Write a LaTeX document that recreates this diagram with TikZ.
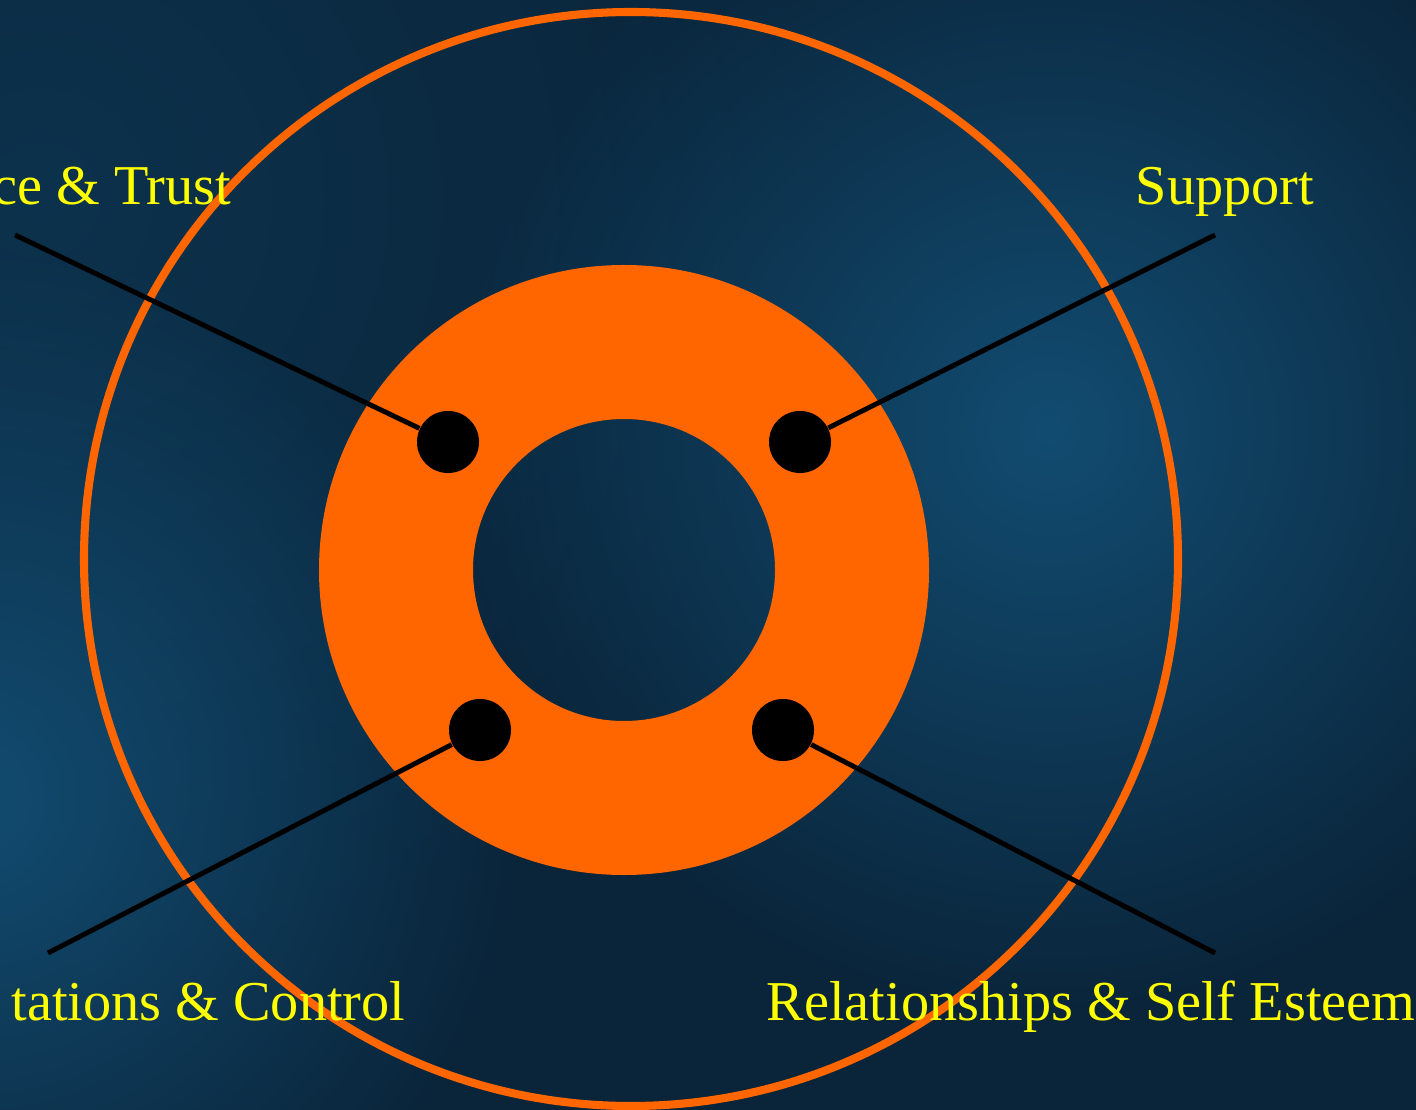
\documentclass[tikz,border=0pt]{standalone}
\usepackage{fontspec}
\setmainfont{Liberation Serif}
\usetikzlibrary{calc,positioning,fadings}

\definecolor{navy}{HTML}{0A2439}
\definecolor{glow}{HTML}{124C71}
\definecolor{ringorange}{HTML}{FF6600}
\definecolor{labelyellow}{HTML}{FFFF00}

\tikzfading[name=blobfade, inner color=transparent!0, outer color=transparent!100]

\begin{document}
\begin{tikzpicture}[
    x=0.01cm, y=-0.01cm,
    dot/.style   = {circle, fill = black, inner sep = 0pt, minimum size = 0.62cm},
    spoke/.style = {line width = 1.4pt, black},
    lbl/.style   = {text = labelyellow, font = \fontsize{16}{19}\selectfont, inner sep = 0pt},
    blob/.style  = {fill = glow, path fading = blobfade},
  ]
	\useasboundingbox (0,0) rectangle (1416,1110);
	\clip (0,0) rectangle (1416,1110);
	
	% Hintergrund
	\fill[navy] (0,0) rectangle (1416,1110);
	\fill[blob, fill opacity=0.35] (40,200) circle (800);
	\fill[blob] (1050,430) circle (600);
	\fill[blob] (-30,800) circle (560);
	
	\coordinate (M) at (624,570); % Mittelpunkt Ring
	
	% aeusserer Kreis
	\draw[ringorange, line width=2.3pt] (631,559) circle (547);
	
	% Ring
	\fill[ringorange, even odd rule] (M) circle (305) (M) circle (151);
	
	% Punkte
	\node (TL) at (448,442) [dot]{};
	\node (TR) at (800,442) [dot]{};
	\node (BL) at (480,730) [dot]{};
	\node (BR) at (783,730) [dot]{};
	
	% Endpunkte der Linien
	\coordinate (eTL) at (15,235);
	\coordinate (eTR) at (1215,235);
	\coordinate (eBL) at (48,953);
	\coordinate (eBR) at (1215,953);
	
	% Linien
	\draw[spoke] (TL) -- (eTL);
	\draw[spoke] (TR) -- (eTR);
	\draw[spoke] (BL) -- (eBL);
	\draw[spoke] (BR) -- (eBR);
	
	% Beschriftungen
	\node (lTL) at (232,205) [lbl, anchor=base east]{ce \& Trust};
	\node (lTR) at (1225,205) [lbl, anchor=base]{Support};
	\node (lBL) at (406,1020) [lbl, anchor=base east]{tations \& Control};
	\node (lBR) at (1091,1020) [lbl, anchor=base]{Relationships \& Self Esteem};
	
\end{tikzpicture}
\end{document}
